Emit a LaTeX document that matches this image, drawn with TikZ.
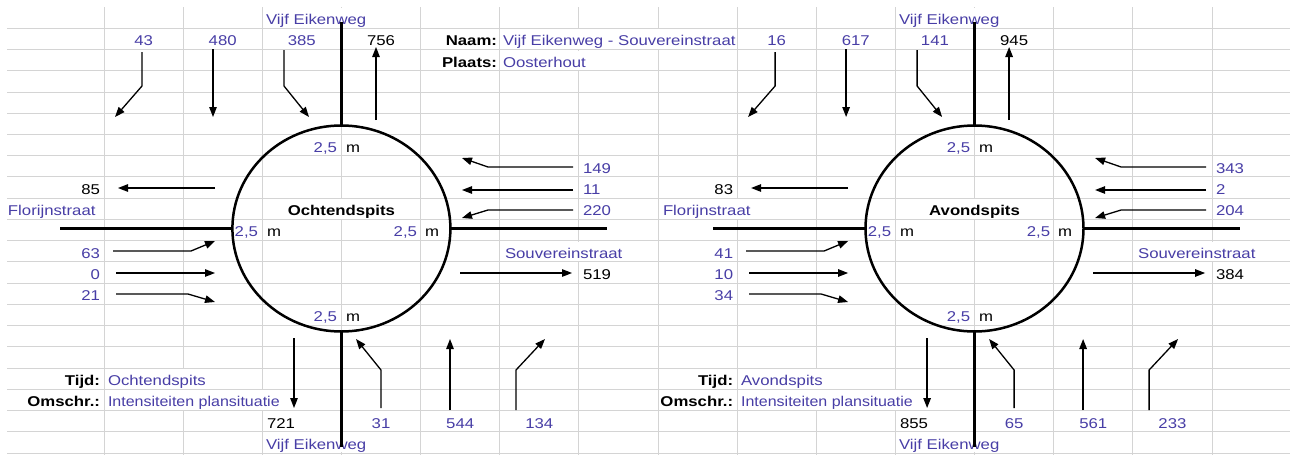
\documentclass[tikz,border=0pt]{standalone}
\usepackage{fontspec}
\setmainfont{Liberation Sans}[FakeStretch=1.18]
\usetikzlibrary{arrows.meta,shapes.geometric}
\definecolor{blu}{RGB}{72,62,166}
\definecolor{gridc}{RGB}{212,212,212}
\newcommand\diafont{\fontsize{14.2pt}{16pt}\selectfont}
\tikzset{
  txt/.style={font=\diafont, inner sep=0pt, outer sep=0pt, fill=white, text height=16.5pt, text depth=3pt},
  bl/.style={txt, text=blu},
  bk/.style={txt, text=black},
  lab/.style={txt, text=black, font=\diafont\bfseries},
  narrow/.style={xscale=0.955},
  road/.style={line width=3pt},
  ring/.style={draw, ellipse, line width=2.5pt, minimum width=218pt, minimum height=206pt, inner sep=0pt, outer sep=0pt},
  arr/.style={line width=1.3pt, line join=round, -{Triangle[length=10pt,width=7.5pt]}},
  gridl/.style={draw=gridc, line width=0.9pt}
}
\begin{document}
\begin{tikzpicture}[x=1pt,y=-1pt]
\useasboundingbox (0,0) rectangle (1290,455);
\fill[white] (0,0) rectangle (1290,455);
% spreadsheet grid
\foreach \k in {1,...,21} \draw[gridl] (7,7+21.24*\k) -- (1290,7+21.24*\k);
\foreach \k in {0,...,14} \draw[gridl] (104+79.14*\k,7) -- (104+79.14*\k,455);

% ---------- header texts ----------
\node[lab, anchor=base east] (naamL) at (497,45.8) {Naam:};
\node[bl, anchor=base west] (naam) at (503,45.8) {Vijf Eikenweg - Souvereinstraat};
\node[lab, anchor=base east] (plaatsL) at (497,67.0) {Plaats:};
\node[bl, anchor=base west] (plaats) at (503,67.0) {Oosterhout};

% ---------- left roundabout: texts ----------
\node[bl, anchor=base west] (Lnstreet) at (266,24.5) {Vijf Eikenweg};
\node[bl, anchor=base] (Ln1) at (143.6,45.8) {43};
\node[bl, anchor=base] (Ln2) at (222.7,45.8) {480};
\node[bl, anchor=base] (Ln3) at (301.8,45.8) {385};
\node[bk, anchor=base] (Lnout) at (381.0,45.8) {756};
\node[bl, anchor=base east] (Ltopd) at (337,152.0) {2,5};
\node[bk, anchor=base west] (Ltopm) at (346,152.0) {m};
\node[bl, anchor=base west] (Le1) at (583,173.2) {149};
\node[bk, anchor=base east] (Lwout) at (100,194.5) {85};
\node[bl, anchor=base west] (Le2) at (583,194.5) {11};
\node[bl, anchor=base west] (Lwstreet) at (8,215.7) {Florijnstraat};
\node[lab, anchor=base] (Ltitle) at (341.4,215.7) {Ochtendspits};
\node[bl, anchor=base west] (Le3) at (583,215.7) {220};
\node[bl, anchor=base east] (Lleftd) at (258,236.9) {2,5};
\node[bk, anchor=base west] (Lleftm) at (267,236.9) {m};
\node[bl, anchor=base east] (Lrightd) at (417,236.9) {2,5};
\node[bk, anchor=base west] (Lrightm) at (425,236.9) {m};
\node[bl, anchor=base east] (Lw1) at (100,258.2) {63};
\node[bl, anchor=base west] (Lestreet) at (505,258.2) {Souvereinstraat};
\node[bl, anchor=base east] (Lw2) at (100,279.4) {0};
\node[bk, anchor=base west] (Leout) at (583,279.4) {519};
\node[bl, anchor=base east] (Lw3) at (100,300.7) {21};
\node[bl, anchor=base east] (Lbotd) at (337,321.9) {2,5};
\node[bk, anchor=base west] (Lbotm) at (346,321.9) {m};
\node[lab, anchor=base east] (LtijdL) at (100,385.6) {Tijd:};
\node[bl, anchor=base west] (Ltijd) at (108,385.6) {Ochtendspits};
\node[lab, anchor=base east] (LomsL) at (100,406.9) {Omschr.:};
\node[bl, narrow, anchor=base west] (Loms) at (108,406.9) {Intensiteiten plansituatie};
\node[bk, anchor=base west] (Lsout) at (267,428.1) {721};
\node[bl, anchor=base] (Ls1) at (381.0,428.1) {31};
\node[bl, anchor=base] (Ls2) at (460.2,428.1) {544};
\node[bl, anchor=base] (Ls3) at (539.3,428.1) {134};
\node[bl, anchor=base west] (Lsstreet) at (266,449.3) {Vijf Eikenweg};

% ---------- left roundabout: shapes ----------
\node[ring] (L) at (341.4,228.5) {};
\coordinate (Lrn) at (341.4,22);
\coordinate (Lrs) at (341.4,447);
\coordinate (Lrw) at (60,228.5);
\coordinate (Lre) at (607,228.5);
\draw[road] (Lrn) -- (L.north);
\draw[road] (L.south) -- (Lrs);
\draw[road] (Lrw) -- (L.west);
\draw[road] (L.east) -- (Lre);
\draw[arr] (142,52) -- (142,86) -- (115,117);
\draw[arr] (213,49) -- (213,117);
\draw[arr] (284,50) -- (284,86) -- (309,117);
\draw[arr] (376,120) -- (376,47);
\draw[arr] (215,188) -- (118,188);
\draw[arr] (113,251) -- (191,251) -- (215,241);
\draw[arr] (116,273) -- (215,273);
\draw[arr] (116,294) -- (188,294) -- (215,302);
\draw[arr] (573,167) -- (488,167) -- (462,158);
\draw[arr] (573,190) -- (462,190);
\draw[arr] (573,210) -- (488,210) -- (462,218);
\draw[arr] (460,273) -- (572,273);
\draw[arr] (294,338) -- (294,408);
\draw[arr] (381,408) -- (381,370) -- (356,339);
\draw[arr] (450,410) -- (450,339);
\draw[arr] (516,410) -- (516,370) -- (545,339);

% ---------- right roundabout ----------
\begin{scope}[xshift=633.1pt]
\node[bl, anchor=base west] (Rnstreet) at (266,24.5) {Vijf Eikenweg};
\node[bl, anchor=base] (Rn1) at (143.6,45.8) {16};
\node[bl, anchor=base] (Rn2) at (222.7,45.8) {617};
\node[bl, anchor=base] (Rn3) at (301.8,45.8) {141};
\node[bk, anchor=base] (Rnout) at (381.0,45.8) {945};
\node[bl, anchor=base east] (Rtopd) at (337,152.0) {2,5};
\node[bk, anchor=base west] (Rtopm) at (346,152.0) {m};
\node[bl, anchor=base west] (Re1) at (583,173.2) {343};
\node[bk, anchor=base east] (Rwout) at (100,194.5) {83};
\node[bl, anchor=base west] (Re2) at (583,194.5) {2};
\node[bl, anchor=base west] (Rwstreet) at (29.9,215.7) {Florijnstraat};
\node[lab, anchor=base] (Rtitle) at (341.4,215.7) {Avondspits};
\node[bl, anchor=base west] (Re3) at (583,215.7) {204};
\node[bl, anchor=base east] (Rleftd) at (258,236.9) {2,5};
\node[bk, anchor=base west] (Rleftm) at (267,236.9) {m};
\node[bl, anchor=base east] (Rrightd) at (417,236.9) {2,5};
\node[bk, anchor=base west] (Rrightm) at (425,236.9) {m};
\node[bl, anchor=base east] (Rw1) at (100,258.2) {41};
\node[bl, anchor=base west] (Restreet) at (505,258.2) {Souvereinstraat};
\node[bl, anchor=base east] (Rw2) at (100,279.4) {10};
\node[bk, anchor=base west] (Reout) at (583,279.4) {384};
\node[bl, anchor=base east] (Rw3) at (100,300.7) {34};
\node[bl, anchor=base east] (Rbotd) at (337,321.9) {2,5};
\node[bk, anchor=base west] (Rbotm) at (346,321.9) {m};
\node[lab, anchor=base east] (RtijdL) at (100,385.6) {Tijd:};
\node[bl, anchor=base west] (Rtijd) at (108,385.6) {Avondspits};
\node[lab, anchor=base east] (RomsL) at (100,406.9) {Omschr.:};
\node[bl, narrow, anchor=base west] (Roms) at (108,406.9) {Intensiteiten plansituatie};
\node[bk, anchor=base west] (Rsout) at (267,428.1) {855};
\node[bl, anchor=base] (Rs1) at (381.0,428.1) {65};
\node[bl, anchor=base] (Rs2) at (460.2,428.1) {561};
\node[bl, anchor=base] (Rs3) at (539.3,428.1) {233};
\node[bl, anchor=base west] (Rsstreet) at (266,449.3) {Vijf Eikenweg};

\node[ring] (R) at (341.4,228.5) {};
\coordinate (Rrn) at (341.4,22);
\coordinate (Rrs) at (341.4,447);
\coordinate (Rrw) at (80,228.5);
\coordinate (Rre) at (607,228.5);
\draw[road] (Rrn) -- (R.north);
\draw[road] (R.south) -- (Rrs);
\draw[road] (Rrw) -- (R.west);
\draw[road] (R.east) -- (Rre);
\draw[arr] (142,52) -- (142,86) -- (115,117);
\draw[arr] (213,49) -- (213,117);
\draw[arr] (284,50) -- (284,86) -- (309,117);
\draw[arr] (376,120) -- (376,47);
\draw[arr] (215,188) -- (118,188);
\draw[arr] (113,251) -- (191,251) -- (215,241);
\draw[arr] (116,273) -- (215,273);
\draw[arr] (116,294) -- (188,294) -- (215,302);
\draw[arr] (573,167) -- (488,167) -- (462,158);
\draw[arr] (573,190) -- (462,190);
\draw[arr] (573,210) -- (488,210) -- (462,218);
\draw[arr] (460,273) -- (572,273);
\draw[arr] (294,338) -- (294,408);
\draw[arr] (381,408) -- (381,370) -- (356,339);
\draw[arr] (450,410) -- (450,339);
\draw[arr] (516,410) -- (516,370) -- (545,339);
\end{scope}
\end{tikzpicture}
\end{document}
